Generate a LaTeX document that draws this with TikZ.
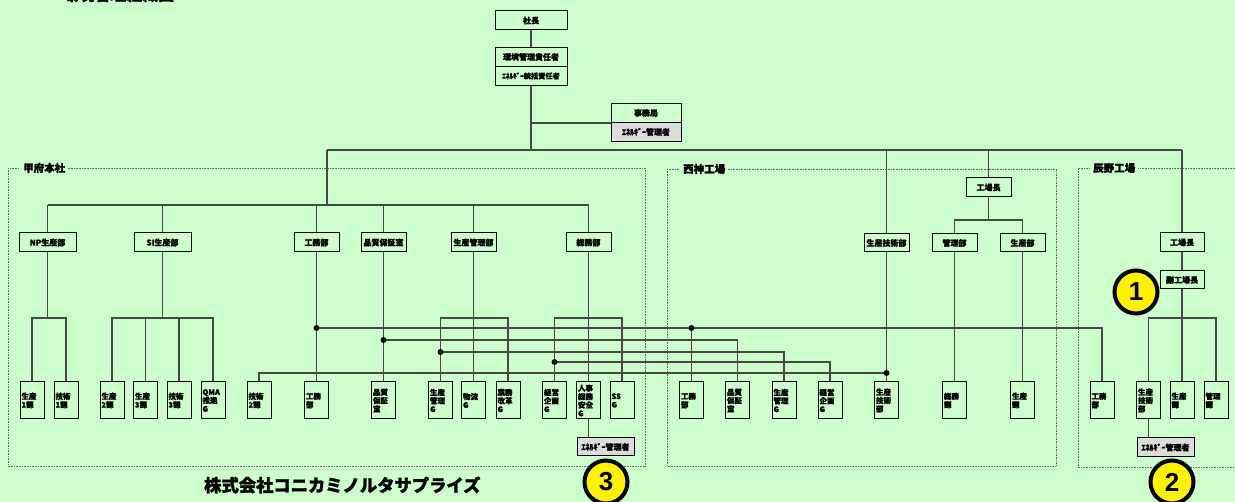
\documentclass[tikz,border=0pt]{standalone}
\usepackage{fontspec}
\setmainfont{Noto Sans CJK JP}[BoldFeatures={FakeBold=1.5}]
\newfontfamily\numfont{Liberation Sans}
\definecolor{bg}{HTML}{CCFFCC}
\definecolor{graybox}{HTML}{DCDCDC}
\begin{document}
\begin{tikzpicture}[x=1pt,y=-1pt,
  box/.style={draw=black, line width=1pt, fill=bg, inner sep=0pt, align=center,
    font=\bfseries\fontsize{8}{9}\selectfont},
  gbox/.style={box, fill=graybox},
  sbox/.style={draw=black, line width=1pt, fill=bg, minimum height=37pt, text width=21pt,
    inner xsep=1.5pt, inner ysep=0pt, align=left, font=\bfseries\fontsize{7.5}{8.4}\selectfont},
  conn/.style={draw=black!72, line width=1.3pt},
  jdot/.style={circle, fill=black, inner sep=0pt, minimum size=6pt},
  frame/.style={draw=black!60, line width=0.8pt, dash pattern=on 0.8pt off 0.8pt},
  flabel/.style={fill=bg, inner xsep=3pt, inner ysep=1pt, anchor=west,
    font=\bfseries\fontsize{10.5}{12}\selectfont},
  num/.style={circle, draw=black, line width=4pt, fill=yellow, minimum size=43pt, inner sep=0pt,
    font=\numfont\bfseries\fontsize{26}{26}\selectfont}
]
\useasboundingbox (0,0) rectangle (1235,502);
\fill[bg] (0,0) rectangle (1235,502);

% title (cut at top)
\node[anchor=base west, inner sep=0pt, font=\bfseries\fontsize{16}{16}\selectfont] (title) at (62,0.5) {環境管理組織図};

% frames
\draw[frame] (8,168) rectangle (645,466);
\draw[frame] (667,169) rectangle (1056,466);
\draw[frame] (1240,168) -- (1078,168) -- (1078,467) -- (1240,467);
\node[flabel] (lkofu) at (20,168) {甲府本社};
\node[flabel] (lnishi) at (680,169) {西神工場};
\node[flabel] (ltatsu) at (1090,168) {辰野工場};

% level coordinates
\coordinate (top) at (531,150);
\coordinate (busL) at (327,150);
\coordinate (busR) at (1182,150);
\coordinate (kbus) at (327,205);
\coordinate (yb) at (0,318);
\coordinate (y328) at (0,328);
\coordinate (y340) at (0,340);
\coordinate (y352) at (0,352);
\coordinate (y362) at (0,362);
\coordinate (y373) at (0,373);
\coordinate (nbr) at (988.5,220);

% top nodes
\node[box, minimum width=72pt, minimum height=19pt] (shacho) at (531,20.5) {社長};
\node[box, minimum width=72pt, minimum height=19pt] (kanA) at (531,57) {環境管理責任者};
\node[box, minimum width=72pt, minimum height=19pt, font=\bfseries\fontsize{7.2}{8}\selectfont] (kanB) at (531,76) {ｴﾈﾙｷﾞｰ統括責任者};
\node[box, minimum width=70pt, minimum height=19pt] (jimA) at (646,113) {事務局};
\node[gbox, minimum width=70pt, minimum height=19pt] (jimB) at (646,132) {ｴﾈﾙｷﾞｰ管理者};

% Kofu department row
\node[box, minimum width=57pt, minimum height=19pt] (np) at (47.5,242.5) {NP生産部};
\node[box, minimum width=57pt, minimum height=19pt] (si) at (162.5,242.5) {SI生産部};
\node[box, minimum width=45pt, minimum height=19pt] (kk) at (316.5,242.5) {工務部};
\node[box, minimum width=45pt, minimum height=19pt] (kq) at (383.5,242.5) {品質保証室};
\node[box, minimum width=45pt, minimum height=19pt] (kp) at (473.5,242.5) {生産管理部};
\node[box, minimum width=45pt, minimum height=19pt] (sm) at (588.5,242.5) {総務部};

% Kofu section row
\node[sbox] (s1) at (32,400.5) {生産\\1課};
\node[sbox] (t1) at (66,400.5) {技術\\1課};
\node[sbox] (s2) at (112,400.5) {生産\\2課};
\node[sbox] (s3) at (145.5,400.5) {生産\\3課};
\node[sbox] (t3) at (179,400.5) {技術\\3課};
\node[sbox] (qma) at (213,400.5) {QMA\\推進\\G};
\node[sbox] (t2) at (259,400.5) {技術\\2課};
\node[sbox] (kk2) at (316.5,400.5) {工務\\部};
\node[sbox] (kq2) at (383.5,400.5) {品質\\保証\\室};
\node[sbox] (pg) at (440.5,400.5) {生産\\管理\\G};
\node[sbox] (bg) at (473.5,400.5) {物流\\G};
\node[sbox] (gk) at (508,400.5) {業務\\改革\\G};
\node[sbox] (kei) at (554.5,400.5) {経営\\企画\\G};
\node[sbox] (hr) at (588.5,400.5) {人事\\総務\\安全\\G};
\node[sbox] (ss) at (622,400.5) {SS\\G};
\node[gbox, minimum width=57pt, minimum height=18pt] (eK) at (605.5,447) {ｴﾈﾙｷﾞｰ管理者};

% Nishi
\node[box, minimum width=45pt, minimum height=19pt] (nkj) at (988.5,187.5) {工場長};
\node[box, minimum width=45pt, minimum height=18pt] (nsg) at (886.5,243) {生産技術部};
\node[box, minimum width=45pt, minimum height=18pt] (nkan) at (954.5,243) {管理部};
\node[box, minimum width=45pt, minimum height=18pt] (nsei) at (1022.5,243) {生産部};
\node[sbox] (nkm) at (691.5,400.5) {工務\\部};
\node[sbox] (nq) at (737.5,400.5) {品質\\保証\\室};
\node[sbox] (npg) at (784,400.5) {生産\\管理\\G};
\node[sbox] (nkei) at (830,400.5) {経営\\企画\\G};
\node[sbox] (nsg2) at (886.5,400.5) {生産\\技術\\部};
\node[sbox] (nsom) at (954.5,400.5) {総務\\課};
\node[sbox] (nsk) at (1022.5,400.5) {生産\\課};

% Tatsuno
\node[box, minimum width=44pt, minimum height=19pt] (tkj) at (1182,242.5) {工場長};
\node[box, minimum width=44pt, minimum height=18pt] (tfk) at (1182,280) {副工場長};
\node[sbox] (tkm) at (1102,400.5) {工務\\部};
\node[sbox] (tsg) at (1148.5,400.5) {生産\\技術\\部};
\node[sbox] (tsk) at (1182,400.5) {生産\\課};
\node[sbox] (tkan) at (1216,400.5) {管理\\課};
\node[gbox, minimum width=57pt, minimum height=19pt] (eT) at (1165.5,447.5) {ｴﾈﾙｷﾞｰ管理者};

% connectors top
\draw[conn] (shacho.south) -- (kanA.north);
\draw[conn] (kanB.south) -- (top);
\draw[conn] (kanB.south |- jimA.south west) -- (jimA.south west);
\draw[conn] (busL) -- (busR);
\draw[conn] (busL) -- (kbus);
\draw[conn] (np.north |- kbus) -- (sm.north |- kbus);
\foreach \n in {np,si,kk,kq,kp,sm} { \draw[conn] (\n.north |- kbus) -- (\n.north); }
\draw[conn] (nsg.north |- busL) -- (nsg.north);
\draw[conn] (nkj.north |- busL) -- (nkj.north);
\draw[conn] (busR) -- (tkj.north);

% Kofu trees
\draw[conn] (np.south) -- (np.south |- yb);
\draw[conn] (s1.north) -- (s1.north |- yb) -- (t1.north |- yb) -- (t1.north);
\draw[conn] (si.south) -- (si.south |- yb);
\draw[conn] (s2.north) -- (s2.north |- yb) -- (qma.north |- yb) -- (qma.north);
\draw[conn] (s3.north) -- (s3.north |- yb);
\draw[conn] (t3.north) -- (t3.north |- yb);
\draw[conn] (kk.south) -- (kk2.north);
\draw[conn] (kq.south) -- (kq2.north);
\draw[conn] (kp.south) -- (bg.north);
\draw[conn] (pg.north) -- (pg.north |- yb) -- (gk.north |- yb) -- (gk.north);
\draw[conn] (sm.south) -- (hr.north);
\draw[conn] (kei.north) -- (kei.north |- yb) -- (ss.north |- yb) -- (ss.north);
\draw[conn] (hr.south) -- (hr.south |- eK.north);

% cross links
\draw[conn] (kk.south |- y328) -- (tkm.north |- y328) -- (tkm.north);
\draw[conn] (nkm.north |- y328) -- (nkm.north);
\draw[conn] (kq.south |- y340) -- (nq.north |- y340) -- (nq.north);
\draw[conn] (pg.north |- y352) -- (npg.north |- y352) -- (npg.north);
\draw[conn] (kei.north |- y362) -- (nkei.north |- y362) -- (nkei.north);
\draw[conn] (t2.north) -- (t2.north |- y373) -- (nsg2.north |- y373);
\draw[conn] (nsg.south) -- (nsg2.north);
\node[jdot] (d1) at (kk.south |- y328) {};
\node[jdot] (d2) at (nkm.north |- y328) {};
\node[jdot] (d3) at (kq.south |- y340) {};
\node[jdot] (d4) at (pg.north |- y352) {};
\node[jdot] (d5) at (kei.north |- y362) {};
\node[jdot] (d6) at (nsg2.north |- y373) {};

% Nishi trees
\draw[conn] (nkj.south) -- (nbr);
\draw[conn] (nkan.north) -- (nkan.north |- nbr) -- (nsei.north |- nbr) -- (nsei.north);
\draw[conn] (nkan.south) -- (nsom.north);
\draw[conn] (nsei.south) -- (nsk.north);

% Tatsuno trees
\draw[conn] (tkj.south) -- (tfk.north);
\draw[conn] (tfk.south) -- (tsk.north);
\draw[conn] (tsg.north) -- (tsg.north |- yb) -- (tkan.north |- yb) -- (tkan.north);
\draw[conn] (tsg.south) -- (tsg.south |- eT.north);

% company name
\node[anchor=west, inner sep=0pt, font=\bfseries\fontsize{17.3}{17.3}\selectfont] (corp) at (204,485) {株式会社コニカミノルタサプライズ};

% numbered circles
\node[num] (c1) at (1136,292) {1};
\node[num] (c2) at (1172,482) {2};
\node[num] (c3) at (606,482) {3};
\end{tikzpicture}
\end{document}
